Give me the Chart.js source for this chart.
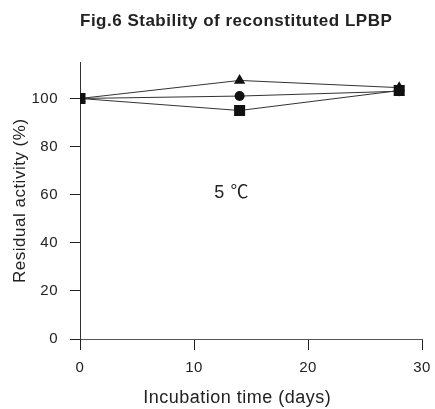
<!DOCTYPE html>
<html>
<head>
<meta charset="utf-8">
<script src="https://cdn.jsdelivr.net/npm/chart.js@4"></script>
<style>
  html, body { margin: 0; padding: 0; background: #fff; }
  #wrap { width: 435px; height: 409px; }
</style>
</head>
<body>
<div id="wrap"><canvas id="stabilityChart" width="435" height="409"></canvas></div>
<script>
// days of incubation
var days = [0, 14, 28];
// residual activity (%) per series
var squareVals = [100, 95, 103.3];
var circleVals = [100, 101, 103];
var triangleVals = [100, 107.5, 104.5];

var xTicks = [0, 10, 20, 30];
var yTicks = [0, 20, 40, 60, 80, 100];

var xTitle = 'Incubation time (days)';
var noteText = '5 \u2103';
var notePos = [13.3, 60.5];

function toPoints(vals) {
    return days.map(function(d, i) { return { x: d, y: vals[i] }; });
}

var fontFamily = '"Liberation Sans", Arial, "Noto Sans CJK JP", sans-serif';

// slightly wider letter spacing like the original figure's typeface
var spacingPlugin = {
    id: 'spacing',
    beforeDraw: function(chart) {
        chart.ctx.letterSpacing = '0.5px';
    }
};

// "5 ℃" note and the x title (the original sits a bit left of the axis centre)
var textPlugin = {
    id: 'texts',
    afterDatasetsDraw: function(chart) {
        var c = chart.ctx;
        var area = chart.chartArea;
        c.save();
        c.fillStyle = '#222';
        c.textAlign = 'center';
        c.textBaseline = 'middle';
        c.font = '18px ' + fontFamily;
        c.fillText(noteText, chart.scales.x.getPixelForValue(notePos[0]), chart.scales.y.getPixelForValue(notePos[1]));
        c.fillText(xTitle, area.left + (area.right - area.left) * 0.46, chart.height - 11);
        c.restore();
    }
};

var lineStyle = {
    borderColor: '#333',
    borderWidth: 1,
    backgroundColor: '#111',
    pointBorderColor: '#111',
    pointBorderWidth: 0,
    showLine: true,
    tension: 0
};

var ctx = document.getElementById('stabilityChart').getContext('2d');

var chart = new Chart(ctx, {
    type: 'scatter',
    data: {
        datasets: [
            Object.assign({ label: 'square', data: toPoints(squareVals), pointStyle: 'rect', pointRadius: 7.8 }, lineStyle),
            Object.assign({ label: 'circle', data: toPoints(circleVals), pointStyle: 'circle', pointRadius: 5 }, lineStyle),
            Object.assign({ label: 'triangle', data: toPoints(triangleVals), pointStyle: 'triangle', pointRadius: 6.5 }, lineStyle)
        ]
    },
    options: {
        responsive: false,
        animation: false,
        layout: { padding: { top: 0, right: 13, bottom: 32, left: 9 } },
        scales: {
            x: {
                type: 'linear',
                min: 0,
                max: 30,
                afterBuildTicks: function(axis) {
                    axis.ticks = xTicks.map(function(v) { return { value: v }; });
                },
                afterFit: function(axis) {
                    axis.height = 38;
                    axis.paddingLeft = 0;
                    axis.paddingRight = 0;
                },
                grid: { drawOnChartArea: false, drawTicks: true, tickLength: 11, color: '#222' },
                border: { display: true, color: '#555', width: 1 },
                ticks: { color: '#222', font: { size: 15, family: fontFamily }, padding: 9, maxRotation: 0 }
            },
            y: {
                min: 0,
                max: 115,
                afterBuildTicks: function(axis) {
                    axis.ticks = yTicks.map(function(v) { return { value: v }; });
                },
                afterFit: function(axis) {
                    axis.width = 71;
                    axis.paddingTop = 0;
                    axis.paddingBottom = 0;
                },
                grid: { drawOnChartArea: false, drawTicks: true, tickLength: 10, color: '#222' },
                border: { display: true, color: '#333', width: 1 },
                ticks: { color: '#222', font: { size: 15, family: fontFamily }, padding: 12 },
                title: {
                    display: true,
                    text: 'Residual activity (%)',
                    color: '#222',
                    font: { size: 17, family: fontFamily },
                    padding: { top: 1, bottom: 0 }
                }
            }
        },
        plugins: {
            legend: { display: false },
            tooltip: { enabled: false },
            title: {
                display: true,
                fullSize: false,
                align: 'start',
                text: 'Fig.6 Stability of reconstituted LPBP',
                color: '#222',
                font: { size: 17, weight: 'bold', family: fontFamily },
                padding: { top: 11, bottom: 31 }
            }
        }
    },
    plugins: [spacingPlugin, textPlugin]
});
</script>
</body>
</html>
